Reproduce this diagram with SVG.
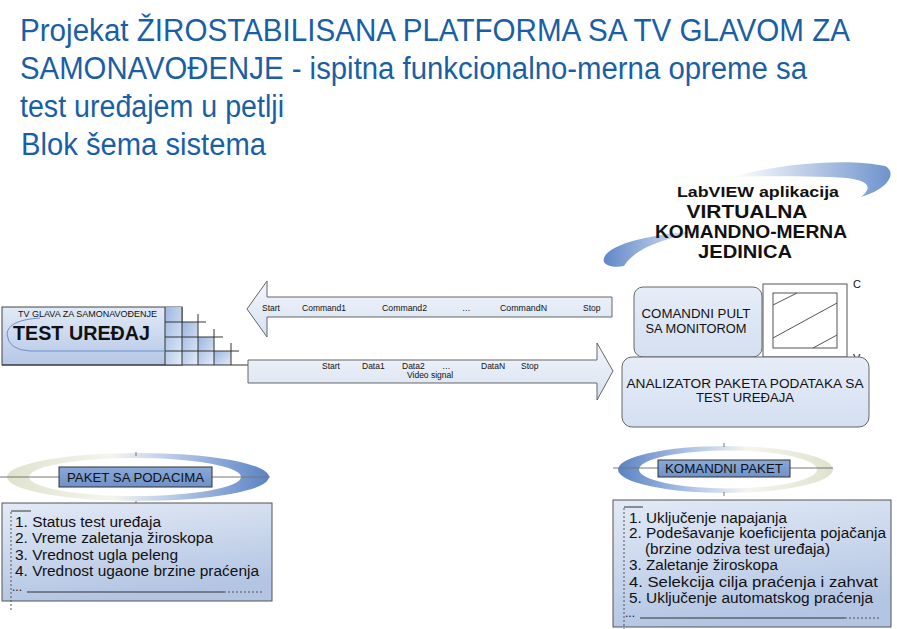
<svg xmlns="http://www.w3.org/2000/svg" width="897" height="629" viewBox="0 0 897 629">
<defs>
<linearGradient id="gBox" x1="0" y1="0" x2="0" y2="1"><stop offset="0" stop-color="#e2eaf6"/><stop offset="1" stop-color="#b4c7e6"/></linearGradient>
<linearGradient id="gCell" x1="0" y1="0" x2="1" y2="1"><stop offset="0" stop-color="#9cb6e0"/><stop offset="1" stop-color="#e4ecf8"/></linearGradient>
<linearGradient id="gArrow" x1="0" y1="0" x2="0" y2="1"><stop offset="0" stop-color="#f3f6fb"/><stop offset="1" stop-color="#d6e1f1"/></linearGradient>
<linearGradient id="gPanel" x1="0" y1="0" x2="0" y2="1"><stop offset="0" stop-color="#e6edf8"/><stop offset="1" stop-color="#d4dff1"/></linearGradient>
<linearGradient id="gList" x1="0" y1="0" x2="0.3" y2="1"><stop offset="0" stop-color="#e3eaf6"/><stop offset="1" stop-color="#b3c5e3"/></linearGradient>
<linearGradient id="gRingL" x1="0" y1="0" x2="1" y2="0"><stop offset="0" stop-color="#dfe3cd"/><stop offset="0.4" stop-color="#f4f5ee"/><stop offset="0.6" stop-color="#bfd0eb"/><stop offset="1" stop-color="#5a83c4"/></linearGradient>
<linearGradient id="gRingR" x1="1" y1="0" x2="0" y2="0"><stop offset="0" stop-color="#dfe3cd"/><stop offset="0.4" stop-color="#f4f5ee"/><stop offset="0.6" stop-color="#bfd0eb"/><stop offset="1" stop-color="#5a83c4"/></linearGradient>
<linearGradient id="gSwTop" x1="0" y1="0" x2="1" y2="0"><stop offset="0" stop-color="#ffffff"/><stop offset="1" stop-color="#6f93cd"/></linearGradient>
<linearGradient id="gSwBot" x1="0" y1="0" x2="1" y2="0"><stop offset="0" stop-color="#5f88c8"/><stop offset="1" stop-color="#eef2fa"/></linearGradient>
<linearGradient id="gPaket" x1="0" y1="0" x2="0" y2="1"><stop offset="0" stop-color="#8aa9d8"/><stop offset="1" stop-color="#6e91c8"/></linearGradient>
</defs>
<style>
.title{font-family:"Liberation Sans",Arial,sans-serif;font-size:31px;fill:#1a5fa6}
.t{font-family:"Liberation Sans",Arial,sans-serif;fill:#111}
.b{font-weight:bold}
.edge{stroke:#666;stroke-width:1}
.grid{stroke:#333;stroke-width:1;fill:none}
.dash{stroke:#555;stroke-width:1;stroke-dasharray:2,2;fill:none}
.sol{stroke:#333;stroke-width:1;fill:none}
.lbl{font-size:8.5px}
.item{font-size:14px}
</style>

<g id="title">
<text class="title" x="20" y="41" textLength="830" lengthAdjust="spacingAndGlyphs">Projekat ŽIROSTABILISANA PLATFORMA SA TV GLAVOM ZA</text>
<text class="title" x="20" y="79" textLength="787" lengthAdjust="spacingAndGlyphs">SAMONAVOĐENJE - ispitna funkcionalno-merna opreme sa</text>
<text class="title" x="20" y="117" textLength="264" lengthAdjust="spacingAndGlyphs">test uređajem u petlji</text>
<text class="title" x="21" y="155" textLength="245" lengthAdjust="spacingAndGlyphs">Blok šema sistema</text>
</g>

<g id="test-uredjaj">
<rect x="2" y="307" width="180" height="58" fill="url(#gBox)" stroke="#444"/>
<rect x="165" y="307" width="17" height="58" fill="url(#gCell)"/>
<rect x="182" y="322" width="16" height="43" fill="url(#gCell)"/>
<rect x="198" y="337" width="16" height="28" fill="url(#gCell)"/>
<rect x="214" y="351" width="17" height="14" fill="url(#gCell)"/>
<path class="grid" d="M165,307V365M182,307V365M198,314V365M214,329V365M231,343V365M165,322H206M165,337H223M165,351H239M2,365H248"/>
<path d="M40,318 Q8,320 7,334 Q8,350 30,351 L165,351" fill="none" stroke="#6a8fcc" stroke-width="1"/>
<text class="t" x="18" y="317" font-size="9" textLength="139" lengthAdjust="spacingAndGlyphs">TV GLAVA ZA SAMONAVOĐENJE</text>
<text class="t b" x="13" y="340" font-size="20" textLength="137" lengthAdjust="spacingAndGlyphs">TEST UREĐAJ</text>
</g>

<g id="connectors">
<g id="command-arrow">
<path d="M612,297 L267,297 L267,281 L247,309 L267,337 L267,317 L612,317 Z" fill="url(#gArrow)" class="edge"/>
<g class="t lbl">
<text x="262" y="311">Start</text>
<text x="302" y="311" textLength="44" lengthAdjust="spacingAndGlyphs">Command1</text>
<text x="382" y="311" textLength="45" lengthAdjust="spacingAndGlyphs">Command2</text>
<text x="462" y="311">…</text>
<text x="500" y="311" textLength="47" lengthAdjust="spacingAndGlyphs">CommandN</text>
<text x="583" y="311">Stop</text>
</g>
</g>
<g id="data-arrow">
<path d="M248,360 L597,360 L597,343 L613,371 L597,400 L597,383 L248,383 Z" fill="url(#gArrow)" class="edge"/>
<g class="t lbl">
<text x="322" y="369">Start</text>
<text x="362" y="369">Data1</text>
<text x="402" y="369">Data2</text>
<text x="442" y="369">…</text>
<text x="481" y="369">DataN</text>
<text x="521" y="369">Stop</text>
<text x="407" y="378">Video signal</text>
</g>
</g>
</g>

<g id="labview">
<path d="M733,177 C780,163 850,158 885,166 C897,172 890,188 861,197 C875,186 868,178 830,177 C800,176 765,176 733,177 Z" fill="url(#gSwTop)"/>
<path d="M604,262 C600,248 640,234 703,231 C665,238 635,248 624,266 C615,268 606,266 604,262 Z" fill="url(#gSwBot)"/>
<text class="t b" x="758" y="197" font-size="14" text-anchor="middle" textLength="162" lengthAdjust="spacingAndGlyphs">LabVIEW aplikacija</text>
<text class="t b" x="747" y="218" font-size="18" text-anchor="middle" textLength="121" lengthAdjust="spacingAndGlyphs">VIRTUALNA</text>
<text class="t b" x="751" y="238" font-size="18" text-anchor="middle" textLength="192" lengthAdjust="spacingAndGlyphs">KOMANDNO-MERNA</text>
<text class="t b" x="745" y="258" font-size="18" text-anchor="middle" textLength="94" lengthAdjust="spacingAndGlyphs">JEDINICA</text>
</g>

<g id="monitor">
<rect x="763" y="284" width="84" height="73" fill="#fff" stroke="#555"/>
<rect x="773" y="293" width="64" height="55" fill="#fff" stroke="#555"/>
<path d="M773,305 L797,293 M773,338 L837,303 M813,348 L837,335" stroke="#555" fill="none"/>
<text class="t" x="853" y="288" font-size="11">C</text>
<text class="t" x="853" y="362" font-size="11">V</text>
</g>

<g id="komandni-pult">
<rect x="634" y="287" width="128" height="70" rx="9" fill="url(#gPanel)" stroke="#666"/>
<text class="t" x="696" y="318" font-size="12.5" text-anchor="middle" textLength="109" lengthAdjust="spacingAndGlyphs">COMANDNI PULT</text>
<text class="t" x="696" y="333" font-size="12.5" text-anchor="middle" textLength="101" lengthAdjust="spacingAndGlyphs">SA MONITOROM</text>
</g>

<g id="analizator">
<rect x="622" y="357" width="247" height="70" rx="10" fill="url(#gPanel)" stroke="#666"/>
<text class="t" x="745" y="388" font-size="12.5" text-anchor="middle" textLength="237" lengthAdjust="spacingAndGlyphs">ANALIZATOR PAKETA PODATAKA SA</text>
<text class="t" x="745" y="402" font-size="12.5" text-anchor="middle" textLength="98" lengthAdjust="spacingAndGlyphs">TEST UREĐAJA</text>
</g>

<g id="paket-sa-podacima">
<path d="M7,477 a131,24 0 1,0 262,0 a131,24 0 1,0 -262,0 Z M29,477 a106,19 0 1,0 212,0 a106,19 0 1,0 -212,0 Z" fill="url(#gRingL)" fill-rule="evenodd"/>
<path d="M0,477 H270 M136,452 V456 M136,501 V504" stroke="#777" fill="none"/>
<rect x="59" y="467" width="153" height="20" fill="url(#gPaket)" stroke="#333"/>
<text class="t" x="135.5" y="482" font-size="13" text-anchor="middle" textLength="137" lengthAdjust="spacingAndGlyphs">PAKET SA PODACIMA</text>
</g>

<g id="lista-podataka">
<rect x="2" y="503" width="270" height="98" fill="url(#gList)" stroke="#555"/>
<path class="dash" d="M11,512 V610 M224,592 H262"/>
<path class="sol" d="M11,511 H31 M27,592 H224"/>
<text class="t" x="12" y="591" font-size="12">...</text>
<g class="t item">
<text x="15" y="527" textLength="146" lengthAdjust="spacingAndGlyphs">1. Status test uređaja</text>
<text x="15" y="543" textLength="198" lengthAdjust="spacingAndGlyphs">2. Vreme zaletanja žiroskopa</text>
<text x="15" y="559.5" textLength="163" lengthAdjust="spacingAndGlyphs">3. Vrednost ugla peleng</text>
<text x="15" y="576" textLength="244" lengthAdjust="spacingAndGlyphs">4. Vrednost ugaone brzine praćenja</text>
</g>
</g>

<g id="komandni-paket">
<path d="M618,469.5 a107.5,23.5 0 1,0 215,0 a107.5,23.5 0 1,0 -215,0 Z M639,469.5 a89,19 0 1,0 178,0 a89,19 0 1,0 -178,0 Z" fill="url(#gRingR)" fill-rule="evenodd"/>
<path d="M613,468 H833 M724,443 V447 M724,492 V496" stroke="#777" fill="none"/>
<rect x="658" y="460" width="132" height="17" fill="url(#gPaket)" stroke="#333"/>
<text class="t" x="724" y="473" font-size="13" text-anchor="middle" textLength="118" lengthAdjust="spacingAndGlyphs">KOMANDNI PAKET</text>
</g>

<g id="lista-komandi">
<rect x="613" y="500" width="278" height="127" fill="url(#gList)" stroke="#555"/>
<path class="dash" d="M624,508 V629 M845,618 H880"/>
<path class="sol" d="M624,507 H643 M640,618 H845"/>
<text class="t" x="625" y="617" font-size="12">...</text>
<g class="t item">
<text x="629" y="523" textLength="158" lengthAdjust="spacingAndGlyphs">1. Uključenje napajanja</text>
<text x="629" y="538" textLength="257" lengthAdjust="spacingAndGlyphs">2. Podešavanje koeficijenta pojačanja</text>
<text x="645" y="553.5" textLength="185" lengthAdjust="spacingAndGlyphs">(brzine odziva test uređaja)</text>
<text x="629" y="570" textLength="149" lengthAdjust="spacingAndGlyphs">3. Zaletanje žiroskopa</text>
<text x="629" y="586.5" textLength="249" lengthAdjust="spacingAndGlyphs">4. Selekcija cilja praćenja i zahvat</text>
<text x="629" y="602.5" textLength="244" lengthAdjust="spacingAndGlyphs">5. Uključenje automatskog praćenja</text>
</g>
</g>
</svg>
